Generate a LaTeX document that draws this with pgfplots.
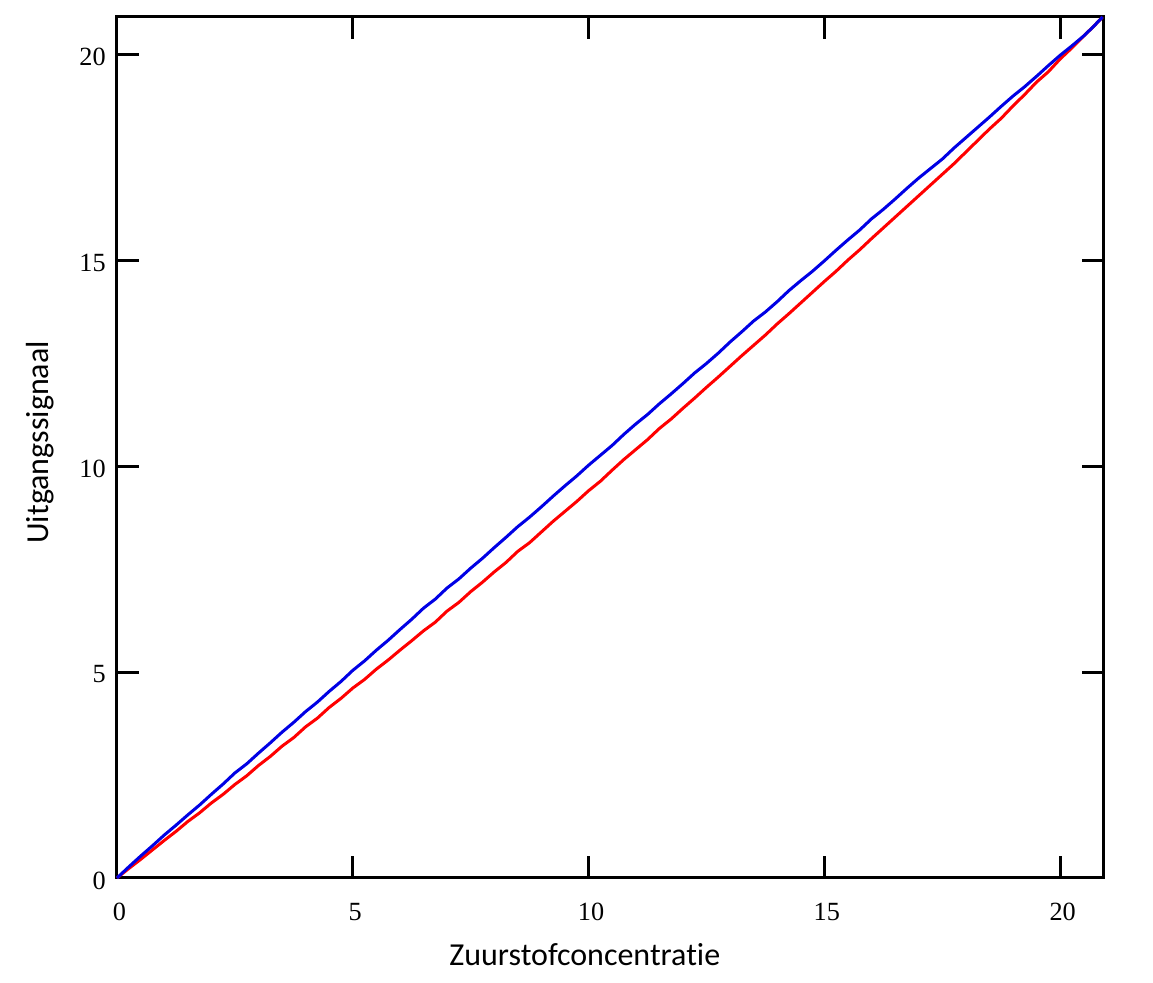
\documentclass[border=0pt]{standalone}
\usepackage{fontspec}
\setmainfont[Ligatures={NoCommon}]{Carlito}
\newfontfamily\tnr{Liberation Serif}
\usepackage{pgfplots}
\pgfplotsset{compat=1.18}
\begin{document}
\begin{tikzpicture}
\path[use as bounding box] (-46.8pt,-42pt) rectangle (414.4pt,351.2pt);
\begin{axis}[
  at={(0,0)}, anchor=south west,
  scale only axis, width=394.8pt, height=344.4pt,
  xmin=0, xmax=20.93, ymin=0, ymax=20.9,
  xtick={0,5,10,15,20}, ytick={0,5,10,15,20},
  tick pos=both, tick align=inside,
  major tick length=8.8pt,
  every tick/.style={black, line width=1.2pt},
  axis line style={line width=1.2pt},
  /pgf/number format/assume math mode=true,
  tick label style={font=\tnr\fontsize{10.5}{12}\selectfont},
  xticklabel style={yshift=-6.5pt, xshift=1pt},
  yticklabel style={xshift=-1pt, yshift=-1pt},
  label style={font=\fontsize{12.8}{15}\selectfont},
  xlabel={Zuurstofconcentratie},
  ylabel={Uitgangssignaal},
  xlabel style={at={(axis description cs:0.474,-0.0894)}, anchor=center},
  ylabel style={at={(axis description cs:-0.078,0.506)}, anchor=center},
  clip=false,
]
\addplot[red, line width=1.2pt] coordinates {
(0,0) (0.25,0.23) (0.5,0.45) (0.75,0.68) (1,0.91) (1.25,1.13) (1.5,1.37) (1.75,1.58)
(2,1.82) (2.25,2.03) (2.5,2.27) (2.75,2.48) (3,2.73) (3.25,2.95) (3.5,3.2) (3.75,3.41)
(4,3.67) (4.25,3.88) (4.5,4.14) (4.75,4.36) (5,4.61) (5.25,4.82) (5.5,5.07) (5.75,5.29)
(6,5.53) (6.25,5.76) (6.5,6.0) (6.75,6.21) (7,6.48) (7.25,6.69) (7.5,6.95) (7.75,7.18)
(8,7.43) (8.25,7.66) (8.5,7.93) (8.75,8.14) (9,8.4) (9.25,8.66) (9.5,8.9) (9.75,9.14)
(10,9.4) (10.25,9.63) (10.5,9.9) (10.75,10.16) (11,10.4) (11.25,10.64) (11.5,10.91) (11.75,11.14)
(12,11.4) (12.25,11.65) (12.5,11.91) (12.75,12.16) (13,12.42) (13.25,12.68) (13.5,12.93) (13.75,13.18)
(14,13.45) (14.25,13.7) (14.5,13.96) (14.75,14.22) (15,14.48) (15.25,14.73) (15.5,15.0) (15.75,15.25)
(16,15.52) (16.25,15.78) (16.5,16.04) (16.75,16.3) (17,16.56) (17.25,16.82) (17.5,17.08) (17.75,17.34)
(18,17.62) (18.25,17.9) (18.5,18.18) (18.75,18.44) (19,18.74) (19.25,19.02) (19.5,19.32) (19.75,19.57)
(20,19.88) (20.25,20.15) (20.5,20.44) (20.7,20.66) (20.9,20.9)
};
\addplot[blue!90!black, line width=1.2pt] coordinates {
(0,0) (0.25,0.27) (0.5,0.53) (0.75,0.78) (1,1.04) (1.25,1.28) (1.5,1.53) (1.75,1.77)
(2,2.03) (2.25,2.28) (2.5,2.55) (2.75,2.77) (3,3.03) (3.25,3.28) (3.5,3.54) (3.75,3.78)
(4,4.04) (4.25,4.27) (4.5,4.53) (4.75,4.77) (5,5.04) (5.25,5.27) (5.5,5.53) (5.75,5.77)
(6,6.03) (6.25,6.28) (6.5,6.55) (6.75,6.77) (7,7.04) (7.25,7.26) (7.5,7.52) (7.75,7.76)
(8,8.02) (8.25,8.27) (8.5,8.53) (8.75,8.76) (9,9.01) (9.25,9.27) (9.5,9.52) (9.75,9.76)
(10,10.02) (10.25,10.26) (10.5,10.5) (10.75,10.77) (11,11.02) (11.25,11.25) (11.5,11.51) (11.75,11.75)
(12,12.0) (12.25,12.26) (12.5,12.49) (12.75,12.74) (13,13.01) (13.25,13.26) (13.5,13.52) (13.75,13.74)
(14,13.99) (14.25,14.26) (14.5,14.5) (14.75,14.73) (15,14.98) (15.25,15.24) (15.5,15.49) (15.75,15.73)
(16,16.0) (16.25,16.23) (16.5,16.48) (16.75,16.74) (17,16.99) (17.25,17.22) (17.5,17.45) (17.75,17.72)
(18,17.97) (18.25,18.22) (18.5,18.47) (18.75,18.73) (19,18.98) (19.25,19.21) (19.5,19.46) (19.75,19.72)
(20,19.97) (20.25,20.2) (20.5,20.44) (20.7,20.66) (20.9,20.9)
};
\end{axis}
\end{tikzpicture}
\end{document}
